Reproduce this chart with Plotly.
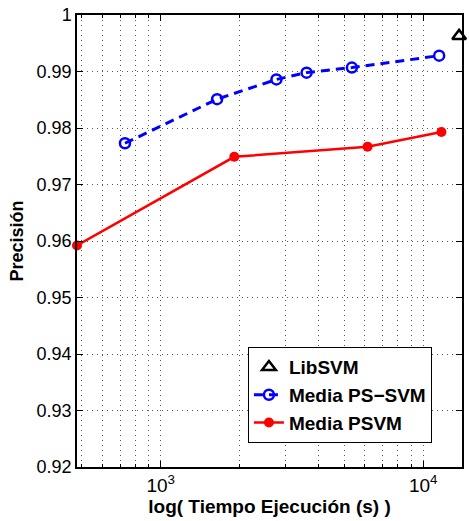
import numpy as np
import plotly.graph_objects as go

# Data
libsvm_x = [13700]
libsvm_y = [0.9963]

pssvm_x = [731, 1640, 2760, 3595, 5350, 11500]
pssvm_y = [0.9773, 0.9851, 0.9886, 0.9898, 0.9907, 0.9928]

psvm_x = [480, 1907, 6137, 11730]
psvm_y = [0.9592, 0.9749, 0.9767, 0.9793]

x_major_vals = [1000, 10000]
x_major_text = ["10<sup>3</sup>", "10<sup>4</sup>"]
x_minor_vals = [500, 600, 700, 800, 900, 2000, 3000, 4000, 5000,
                6000, 7000, 8000, 9000]
y_ticks = [0.92, 0.93, 0.94, 0.95, 0.96, 0.97, 0.98, 0.99, 1.0]
y_tick_text = ["0.92", "0.93", "0.94", "0.95", "0.96", "0.97", "0.98", "0.99", "1"]

FONT = "Liberation Sans, Arial, Helvetica, sans-serif"
GRID = "rgba(0,0,0,0.65)"

fig = go.Figure()
fig.add_trace(go.Scatter(
    x=libsvm_x, y=libsvm_y, mode="markers", name="LibSVM",
    marker=dict(symbol="triangle-up-open", size=12, color="black",
                line=dict(width=2.5, color="black")),
    cliponaxis=False,
))
fig.add_trace(go.Scatter(
    x=pssvm_x, y=pssvm_y, mode="lines+markers", name="Media PS\u2212SVM",
    line=dict(color="#0000ff", width=3, dash="9px,6px"),
    marker=dict(symbol="circle-open", size=10, color="#0000ff",
                line=dict(width=2.5, color="#0000ff")),
))
fig.add_trace(go.Scatter(
    x=psvm_x, y=psvm_y, mode="lines+markers", name="Media PSVM",
    line=dict(color="#ff0000", width=2.5),
    marker=dict(symbol="circle", size=10, color="#ff0000"),
    cliponaxis=False,
))

fig.update_layout(
    width=469, height=521,
    margin=dict(l=77, r=5, t=14, b=54),
    paper_bgcolor="white", plot_bgcolor="white",
    font=dict(family=FONT, size=18, color="black"),
    showlegend=True,
    legend=dict(
        x=0.444, y=0.265, xanchor="left", yanchor="top",
        bgcolor="white", bordercolor="black", borderwidth=1,
        font=dict(family=FONT, size=19, color="black", weight="bold"),
        tracegroupgap=0,
    ),
    xaxis=dict(
        type="log",
        range=[np.log10(480), np.log10(14050)],
        tickmode="array",
        tickvals=x_major_vals,
        ticktext=x_major_text,
        ticks="inside", ticklen=6, tickwidth=1, tickcolor="black",
        showline=True, linecolor="black", linewidth=1.5, mirror="allticks",
        showgrid=True, gridcolor=GRID, gridwidth=1, griddash="1px,4px",
        minor=dict(tickmode="array", tickvals=x_minor_vals,
                   ticks="inside", ticklen=3, tickcolor="black",
                   showgrid=True, gridcolor=GRID, gridwidth=1,
                   griddash="1px,4px"),
        zeroline=False,
        tickfont=dict(size=19),
        title=dict(text="log( Tiempo Ejecución (s) )",
                   font=dict(size=19, weight="bold"), standoff=2),
    ),
    yaxis=dict(
        range=[0.92, 1.0],
        tickmode="array", tickvals=y_ticks, ticktext=y_tick_text,
        ticks="inside", ticklen=6, tickwidth=1, tickcolor="black",
        showline=True, linecolor="black", linewidth=1.5, mirror="allticks",
        showgrid=True, gridcolor=GRID, gridwidth=1, griddash="1px,4px",
        zeroline=False,
        tickfont=dict(size=18),
        title=dict(text="Precisión", font=dict(size=18, weight="bold"),
                   standoff=8),
    ),
)

fig.write_html("out.html")
